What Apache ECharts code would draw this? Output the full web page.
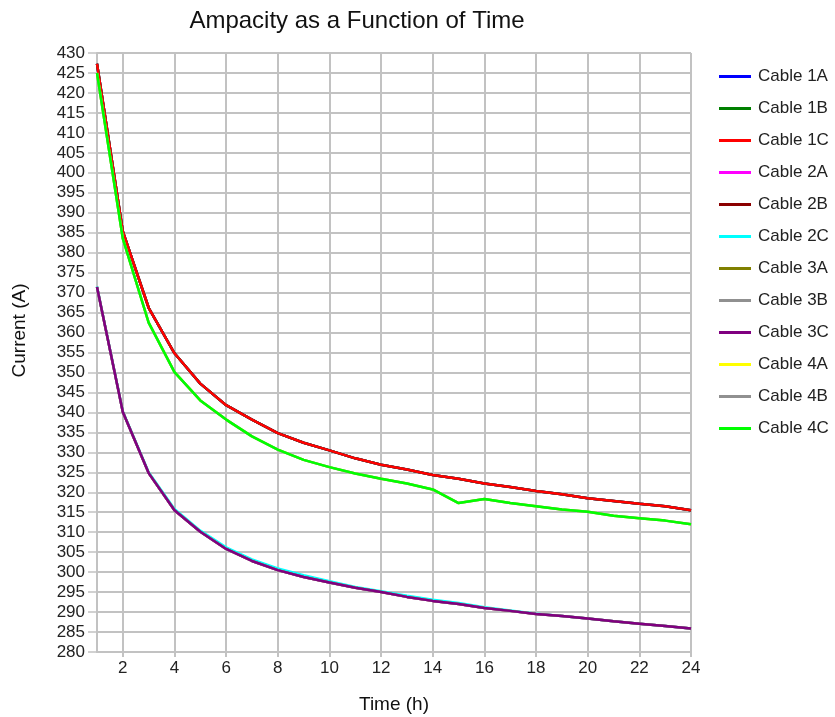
<!DOCTYPE html>
<html>
<head>
<meta charset="utf-8">
<script src="https://cdn.jsdelivr.net/npm/echarts@6/dist/echarts.min.js"></script>
<style>
  html, body { margin: 0; padding: 0; background: #fff; }
  #chart { width: 835px; height: 717px; }
</style>
</head>
<body>
<div id="chart"></div>
<script>
// time in hours
const hours = [1, 2, 3, 4, 5, 6, 7, 8, 9, 10, 11, 12, 13, 14, 15, 16, 17, 18, 19, 20, 21, 22, 23, 24]
// upper group (1A, 1B, 1C, 2B)
const ampHigh = [427.3, 385.3, 366.2, 354.8, 347.2, 341.8, 338.2, 334.8, 332.4, 330.5, 328.5, 326.9,
  325.7, 324.3, 323.4, 322.2, 321.3, 320.3, 319.5, 318.5, 317.8, 317.1, 316.5, 315.5]
// middle group (4A, 4B, 4C)
const ampMid = [425.0, 383.5, 362.5, 350.1, 343.0, 338.2, 334.0, 330.7, 328.1, 326.3, 324.7, 323.4,
  322.2, 320.7, 317.3, 318.3, 317.3, 316.5, 315.7, 315.1, 314.1, 313.5, 312.9, 312.0]
// lower group (2A, 3A, 3B, 3C)
const ampLow = [371.4, 340.1, 324.8, 315.5, 310.1, 305.8, 302.8, 300.5, 298.8, 297.4, 296.1, 295.0,
  293.8, 292.8, 292.0, 291.0, 290.3, 289.5, 289.0, 288.4, 287.7, 287.1, 286.5, 285.9]
// cable 2C, sits just above the lower group
const amp2C = [371.5, 340.2, 325.0, 315.8, 310.4, 306.2, 303.2, 300.9, 299.2, 297.7, 296.3, 295.2,
  294.1, 293.1, 292.3, 291.2, 290.4, 289.6, 289.0, 288.4, 287.7, 287.1, 286.5, 285.9]
const yTicks = { min: 280, max: 430, step: 5 }

const cables = [
  { name: 'Cable 1A', color: '#0000ff', data: ampHigh },
  { name: 'Cable 1B', color: '#008000', data: ampHigh },
  { name: 'Cable 1C', color: '#ff0000', data: ampHigh },
  { name: 'Cable 2A', color: '#ff00ff', data: ampLow },
  { name: 'Cable 2B', color: '#8b0000', data: ampHigh, z: 1 },
  { name: 'Cable 2C', color: '#00ffff', data: amp2C },
  { name: 'Cable 3A', color: '#808000', data: ampLow },
  { name: 'Cable 3B', color: '#909090', data: ampLow },
  { name: 'Cable 3C', color: '#800080', data: ampLow },
  { name: 'Cable 4A', color: '#ffff00', data: ampMid },
  { name: 'Cable 4B', color: '#909090', data: ampMid },
  { name: 'Cable 4C', color: '#00ff00', data: ampMid }
]

const gridColor = '#c2c2c2'
const font = 'Liberation Sans, Arial, sans-serif'
// only even hours get a label / grid line
const evenHour = (i) => i % 2 === 1

let mychart = echarts.init(document.getElementById('chart'))
mychart.setOption({
  animation: false,
  textStyle: { fontFamily: font },
  title: {
    text: 'Ampacity as a Function of Time',
    left: 352,
    textAlign: 'center',
    top: 4,
    textStyle: { fontSize: 24, fontWeight: 'normal', color: '#111', fontFamily: font }
  },
  legend: {
    orient: 'vertical',
    left: 714,
    top: 63,
    icon: 'rect',
    itemWidth: 32,
    itemHeight: 3,
    itemGap: 15,
    textStyle: { fontSize: 17, lineHeight: 17, color: '#222', fontFamily: font, padding: [0, 0, 0, 2] },
    data: cables.map(c => c.name)
  },
  grid: {
    left: 97,
    right: 144,
    top: 53,
    bottom: 65,
    outerBoundsMode: 'none'
  },
  xAxis: {
    type: 'category',
    data: hours,
    boundaryGap: false,
    name: 'Time (h)',
    nameLocation: 'middle',
    nameGap: 43,
    nameTextStyle: { fontSize: 19, color: '#111', fontFamily: font },
    axisLine: { lineStyle: { color: gridColor, width: 2 } },
    axisTick: { show: true, length: 5, interval: evenHour, lineStyle: { color: gridColor, width: 2 } },
    axisLabel: {
      interval: evenHour,
      fontSize: 17,
      color: '#222',
      margin: 8,
      fontFamily: font
    },
    splitLine: {
      show: true,
      interval: evenHour,
      lineStyle: { color: gridColor, width: 2 }
    }
  },
  yAxis: {
    type: 'value',
    min: yTicks.min,
    max: yTicks.max,
    interval: yTicks.step,
    name: 'Current (A)',
    nameLocation: 'middle',
    nameGap: 68,
    nameRotate: 90,
    nameTextStyle: { fontSize: 19, color: '#111', fontFamily: font, padding: [0, 0, 0, 44] },
    axisLine: { show: true, lineStyle: { color: gridColor, width: 2 } },
    axisTick: { show: true, length: 9, lineStyle: { color: gridColor, width: 1.5 } },
    axisLabel: { fontSize: 17, color: '#222', margin: 12, fontFamily: font },
    splitLine: { show: true, lineStyle: { color: gridColor, width: 2 } }
  },
  series: cables.map(c => ({
    name: c.name,
    type: 'line',
    data: c.data,
    symbol: 'none',
    z: c.z || 2,
    color: c.color,
    lineStyle: { color: c.color, width: 2.5 }
  }))
})
</script>
</body>
</html>
